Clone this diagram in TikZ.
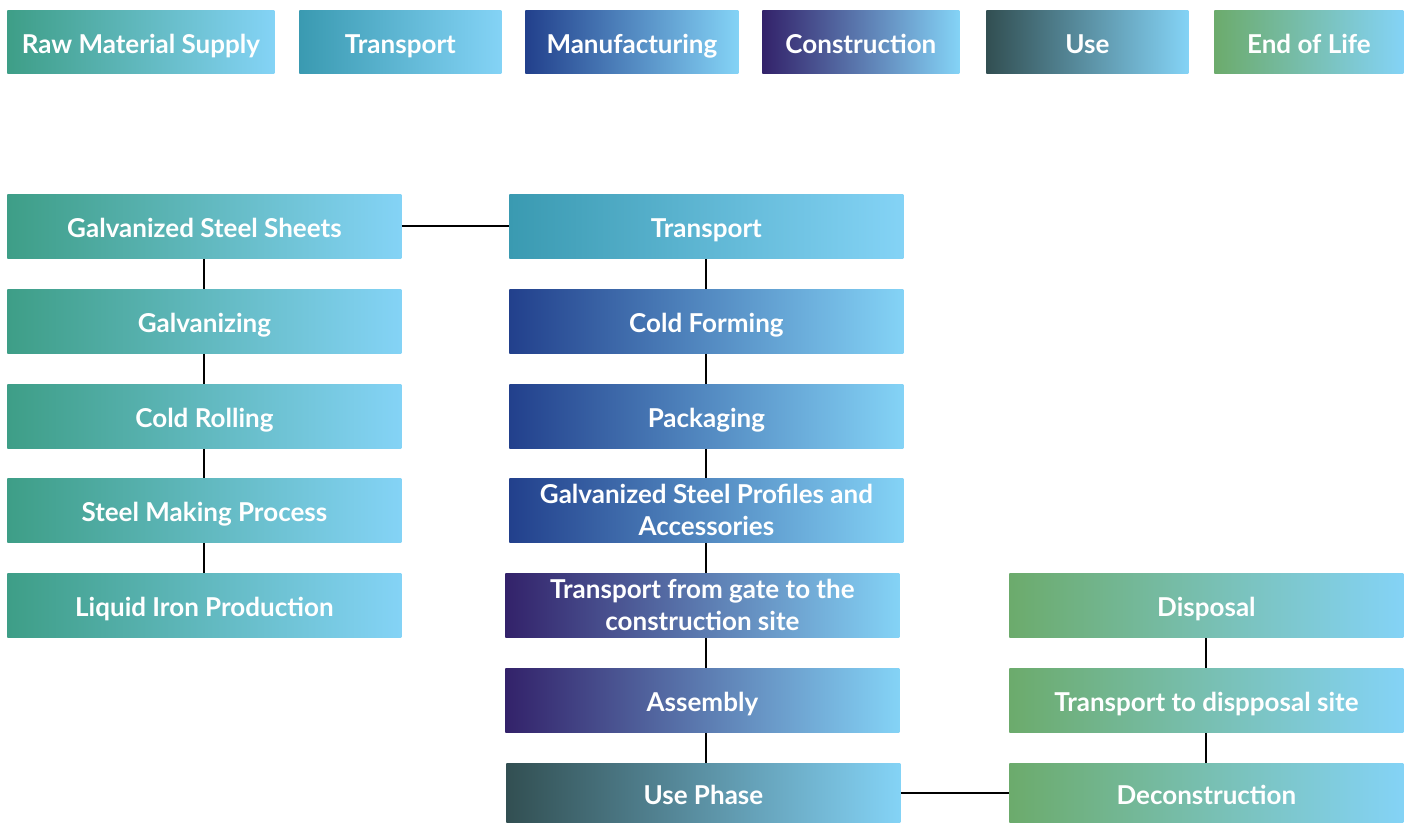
\documentclass[tikz,border=0pt]{standalone}
\usepackage{fontspec}
\setmainfont{Lato}
\usetikzlibrary{positioning}

\definecolor{skyR}{HTML}{84D3F6}
\definecolor{rawL}{HTML}{3E9E87}
\definecolor{transL}{HTML}{3A9AB1}
\definecolor{manuL}{HTML}{22408C}
\definecolor{consL}{HTML}{33226A}
\definecolor{useL}{HTML}{324F52}
\definecolor{eolL}{HTML}{6CAB6C}

\tikzset{
	stagebox/.style={anchor=north west, inner sep=0pt, minimum height=32pt, minimum width=197pt,
		text height=13pt, text depth=1.6pt,
		text=white, align=center, font=\fontsize{13}{16}\selectfont\bfseries},
	twoline/.style={text height=, text depth=},
	rawbox/.style={stagebox, left color=rawL, middle color=rawL!55!skyR, right color=skyR},
	transbox/.style={stagebox, left color=transL, middle color=transL!55!skyR, right color=skyR},
	manubox/.style={stagebox, left color=manuL, middle color=manuL!60!skyR, right color=skyR},
	consbox/.style={stagebox, left color=consL, middle color=consL!70!skyR, right color=skyR},
	usebox/.style={stagebox, left color=useL, middle color=useL!70!skyR, right color=skyR},
	eolbox/.style={stagebox, left color=eolL, middle color=eolL!55!skyR, right color=skyR},
	link/.style={draw=black, line width=1pt}
}

\begin{document}
\begin{tikzpicture}[x=0.5pt, y=-0.5pt]
			\useasboundingbox (0,0) rectangle (1409,823);
			% legend
			\node[rawbox, minimum width=133.5pt, minimum height=31.5pt] (legRaw) at (7,10) {Raw Material Supply};
			\node[transbox, minimum width=101pt, minimum height=31.5pt] (legTrans) at (299,10) {Transport};
			\node[manubox, minimum width=106.5pt, minimum height=31.5pt] (legManu) at (525,10) {Manufacturing};
			\node[consbox, minimum width=98.5pt, minimum height=31.5pt] (legCons) at (762,10) {Construction};
			\node[usebox, minimum width=101pt, minimum height=31.5pt] (legUse) at (986,10) {Use};
			\node[eolbox, minimum width=94.5pt, minimum height=31.5pt] (legEol) at (1214,10) {End of Life};
			% raw material column
			\node[rawbox] (sheets) at (7,194) {Galvanized Steel Sheets};
			\node[rawbox] (galvanizing) at (7,289) {Galvanizing};
			\node[rawbox] (rolling) at (7,384) {Cold Rolling};
			\node[rawbox] (making) at (7,478) {Steel Making Process};
			\node[rawbox] (iron) at (7,573) {Liquid Iron Production};
			% manufacturing and construction column
			\node[transbox] (transport) at (509,194) {Transport};
			\node[manubox] (forming) at (509,289) {Cold Forming};
			\node[manubox] (packaging) at (509,384) {Packaging};
			\node[manubox, twoline] (profiles) at (509,478) {Galvanized Steel Profiles and\\Accessories};
			\node[consbox, twoline] (gate) at (505,573) {Transport from gate to the\\construction site};
			\node[consbox] (assembly) at (505,668) {Assembly};
			\node[usebox, minimum height=30pt] (usephase) at (506,763) {Use Phase};
			% end of life column
			\node[eolbox] (disposal) at (1009,573) {Disposal};
			\node[eolbox] (dispsite) at (1009,668) {Transport to dispposal site};
			\node[eolbox, minimum height=30pt] (decon) at (1009,763) {Deconstruction};

			\draw[link] (sheets) -- (galvanizing) -- (rolling) -- (making) -- (iron);
			\draw[link] (sheets) -- (transport);
			\draw[link] (transport) -- (forming) -- (packaging) -- (profiles);
			\draw[link] (profiles.south) -- (profiles.south |- gate.north);
			\draw[link] (profiles.south |- gate.south) -- (profiles.south |- assembly.north);
			\draw[link] (profiles.south |- assembly.south) -- (profiles.south |- usephase.north);
			\draw[link] (usephase) -- (decon);
			\draw[link] (decon) -- (dispsite) -- (disposal);
\end{tikzpicture}
\end{document}
